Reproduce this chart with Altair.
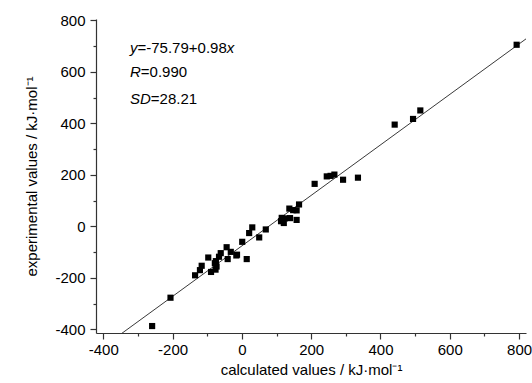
import altair as alt
import pandas as pd

# data
calc = [793, 515, 494, 441, 335, 292, 267, 256, 245, 210, 165, 158, 158, 148, 137, 139,
        124, 121, 113, 115, 69, 50, 30, 21, 1, 14, -16, -14, -32, -44, -41, -61, -66,
        -75, -78, -73, -76, -89, -97, -116, -121, -135, -206, -259]
expv = [705, 450, 417, 395, 189, 181, 201, 196, 194, 165, 85, 25, 62, 63, 69, 32,
        31, 13, 20, 33, -12, -43, -4, -26, -60, -127, -113, -110, -99, -81, -127, -104, -118,
        -135, -143, -156, -168, -177, -121, -153, -170, -190, -277, -387]

fit_intercept = -75.79
fit_slope = 0.98
fit_x = [-421, 820]

x_domain = [-421, 820]
y_domain = [-414, 805]
tick_values = list(range(-400, 801, 100))

pts = pd.DataFrame({"calc": calc, "exp": expv})
fit = pd.DataFrame({"calc": fit_x})

FONT = "Liberation Sans"

tick_size = {"condition": {"test": "datum.value % 200 === 0", "value": 6}, "value": 3}
label_expr = "datum.value % 200 === 0 ? toString(datum.value) : ''"

xenc = alt.X("calc:Q",
             scale=alt.Scale(domain=x_domain, nice=False, zero=False),
             axis=alt.Axis(values=tick_values, labelExpr=label_expr, tickSize=tick_size,
                           title="calculated values / kJ\u00b7mol\u207b\u00b9",
                           labelPadding=3, titlePadding=5))
yenc = alt.Y("exp:Q",
             scale=alt.Scale(domain=y_domain, nice=False, zero=False),
             axis=alt.Axis(values=tick_values, labelExpr=label_expr, tickSize=tick_size,
                           title="experimental values / kJ\u00b7mol\u207b\u00b9",
                           labelPadding=5, titlePadding=15))

points = alt.Chart(pts).mark_square(size=38, color="black", opacity=1).encode(x=xenc, y=yenc)

line = alt.Chart(fit).transform_calculate(
    exp=f"{fit_intercept} + {fit_slope} * datum.calc"
).mark_line(color="#222", strokeWidth=0.9, clip=True).encode(x=xenc, y=yenc)

ann_rows = pd.DataFrame({"k": [0]})

def txt(s, x, y, italic):
    return alt.Chart(ann_rows).mark_text(
        text=s, align="left", baseline="middle", font=FONT, fontSize=15,
        fontStyle="italic" if italic else "normal", color="black"
    ).encode(x=alt.value(x), y=alt.value(y))

ax = 34
l1, l2, l3 = 29, 53, 80
annots = [
    txt("y", ax, l1, True), txt("=-75.79+0.98", ax + 7.5, l1, False), txt("x", ax + 96.7, l1, True),
    txt("R", ax, l2, True), txt("=0.990", ax + 10.8, l2, False),
    txt("SD", ax, l3, True), txt("=28.21", ax + 20.8, l3, False),
]

chart = alt.layer(line, points, *annots).properties(
    width=430, height=314,
    autosize=alt.AutoSizeParams(type="none"),
    padding={"left": 96, "top": 19, "right": 6, "bottom": 50},
).configure_view(stroke=None).configure_axis(
    grid=False, domainColor="#333", domainWidth=1.2, tickColor="#333", tickWidth=1.2,
    labelFont=FONT, labelFontSize=15, labelColor="black",
    titleFont=FONT, titleFontSize=15, titleFontWeight="normal", titleColor="black",
)

chart.save("out.html", embed_options={"renderer": "svg", "actions": False})
